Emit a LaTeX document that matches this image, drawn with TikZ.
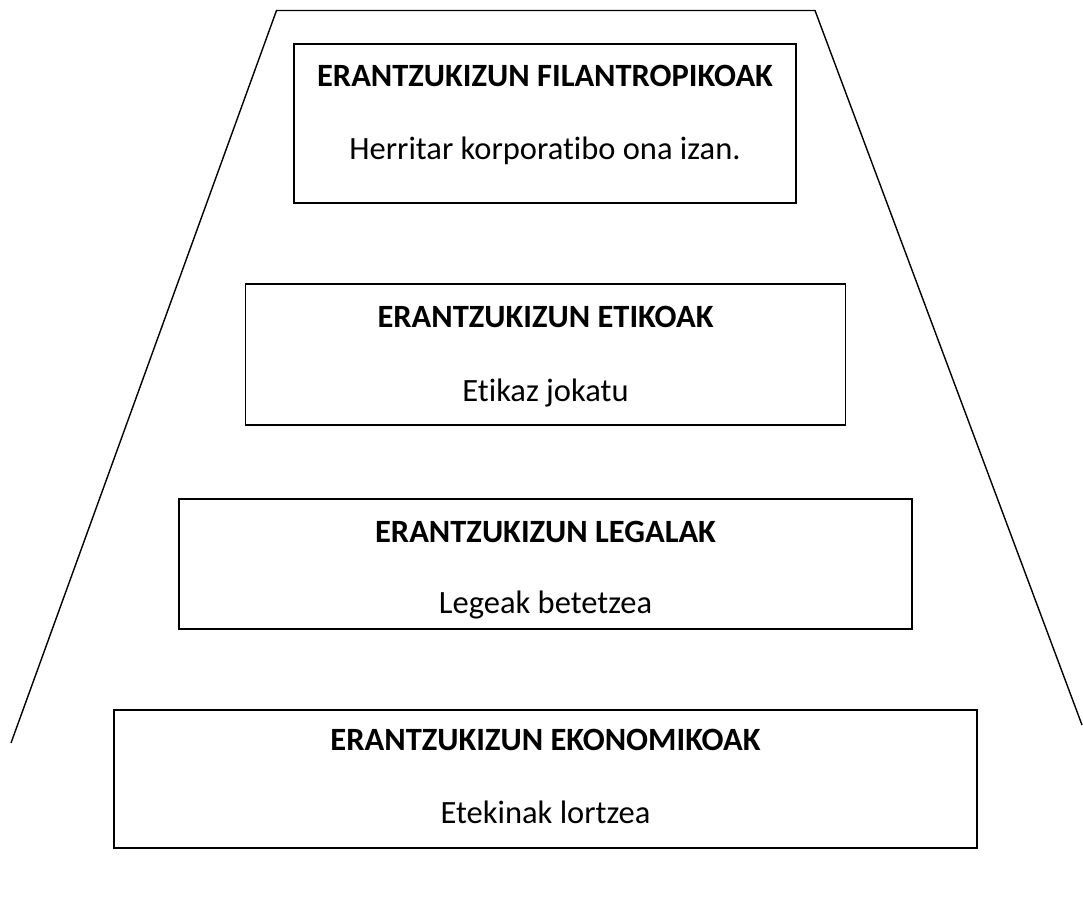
\documentclass[tikz,border=0pt]{standalone}
\usepackage{fontspec}
\setmainfont{Carlito}[Ligatures=NoCommon]
\begin{document}
\begin{tikzpicture}[x=1pt,y=-1pt,
  box/.style={draw, line width=1.8pt, rectangle, inner sep=0pt},
  title/.style={anchor=base, inner sep=0pt, font=\fontsize{32.5}{36}\selectfont\bfseries},
  sub/.style={anchor=base, inner sep=0pt, font=\fontsize{32.5}{36}\selectfont}]
\useasboundingbox (0,0) rectangle (1083,904);
% trapezoid
\coordinate (tl) at (276.5,10.5);
\coordinate (tr) at (815,10.5);
\coordinate (bl) at (11,743);
\coordinate (br) at (1082,725);
\draw[line width=1.4pt] (bl) -- (tl) -- (tr) -- (br);
% boxes
\node[box, minimum width=502pt, minimum height=159pt] (b1) at (545,123.5) {};
\node[box, minimum width=600pt, minimum height=141pt] (b2) at (545.5,354.5) {};
\node[box, minimum width=733pt, minimum height=130pt] (b3) at (545.5,564) {};
\node[box, minimum width=863pt, minimum height=138pt] (b4) at (545.5,779) {};
% texts
\node[title] (t1) at (545,87) {ERANTZUKIZUN FILANTROPIKOAK};
\node[sub] (s1) at (545,160) {Herritar korporatibo ona izan.};
\node[title] (t2) at (545.5,327) {ERANTZUKIZUN ETIKOAK};
\node[sub] (s2) at (545.5,401) {Etikaz jokatu};
\node[title] (t3) at (545.5,542) {ERANTZUKIZUN LEGALAK};
\node[sub] (s3) at (545.5,613) {Legeak betetzea};
\node[title] (t4) at (545.5,750) {ERANTZUKIZUN EKONOMIKOAK};
\node[sub] (s4) at (545.5,823) {Etekinak lortzea};
\end{tikzpicture}
\end{document}
